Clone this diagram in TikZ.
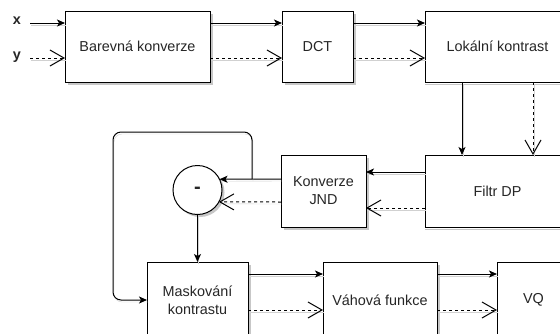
\documentclass[tikz,border=0pt]{standalone}
\usepackage{fontspec}
\setmainfont{Liberation Sans}
\usetikzlibrary{arrows.meta,shadows}
\begin{document}
\begin{tikzpicture}[x=1pt,y=-1pt,
  every node/.style={font=\fontsize{14.4}{18}\selectfont, text=black!85},
  blk/.style={draw, line width=1pt, fill=white, inner sep=0pt, outer sep=0pt, align=center,
    drop shadow={shadow xshift=2.5pt, shadow yshift=-2.5pt, fill=black!22, opacity=1}},
  rblk/.style={line width=1pt, inner sep=0pt, outer sep=0pt, align=center},
  eshadow/.style={preaction={draw=black!18, arrows=-, transform canvas={shift={(1pt,-2pt)}}}},
  sol/.style={line width=1pt, eshadow, -{Stealth[length=8pt,width=7pt,inset=2pt]}},
  dsh/.style={line width=1pt, eshadow, dash pattern=on 3pt off 3pt, -{Straight Barb[length=14pt,width=16pt]}},
  lbl/.style={font=\fontsize{14.4}{18}\selectfont\bfseries, text=black!85},
  open/.style={line width=1pt},
  oshadow/.style={line width=1pt, draw=black!22}
]
\fill[white] (0,0) rectangle (560,333);
\useasboundingbox (0,0) rectangle (560,333);
\clip (0,0) rectangle (560,333);

\node[blk, minimum width=145pt, minimum height=71pt] (bar) at (137.5,46.5) {Barevná konverze};
\node[blk, minimum width=71pt, minimum height=71pt] (dct) at (317.5,46.5) {DCT};
\node[rblk, minimum width=185pt, minimum height=71pt] (lok) at (517.5,46.5) {Lokální kontrast\hspace*{40pt}};
\node[rblk, minimum width=185pt, minimum height=72pt] (fil) at (517.5,191) {Filtr DP\hspace*{40pt}};
\node[blk, minimum width=85pt, minimum height=72pt] (jnd) at (323.5,191) {Konverze\\JND};
\node[blk, circle, minimum size=49pt] (cir) at (197.5,190) {\fontsize{20}{20}\selectfont\textbf{-}};
\node[blk, minimum width=101pt, minimum height=76pt] (mas) at (197.5,300) {Maskování\\kontrastu};
\node[blk, minimum width=114pt, minimum height=76pt] (vah) at (380,300) {Váhová funkce};
\node[rblk, minimum width=113pt, minimum height=76pt] (vq) at (553.5,300) {VQ\hspace*{40pt}};

\draw[oshadow] ([yshift=-2.5pt]lok.south west) -- ([yshift=-2.5pt]lok.south east);
\draw[oshadow] ([yshift=-2.5pt]fil.south west) -- ([yshift=-2.5pt]fil.south east);
\draw[open] (lok.north east) -- (lok.north west) -- (lok.south west) -- (lok.south east);
\draw[open] (fil.north east) -- (fil.north west) -- (fil.south west) -- (fil.south east);
\draw[open] (vq.north east) -- (vq.north west) -- (vq.south west);

\node[lbl] (lx) at (17,21) {x};
\node[lbl] (ly) at (17,57) {y};

\coordinate (r1) at (0,23);
\coordinate (r2) at (0,58);
\coordinate (xin) at (30,23);
\coordinate (yin) at (30,58);
\coordinate (c1) at (462,0);
\coordinate (c2) at (533,0);
\coordinate (r3) at (0,172);
\coordinate (r4) at (0,208);
\coordinate (r5) at (0,179);
\coordinate (r6) at (0,202);
\coordinate (r7) at (0,300);
\coordinate (r8) at (0,274);
\coordinate (r9) at (0,310);
\coordinate (sp) at (252,179);

\draw[sol] (xin) -- (bar.west |- r1);
\draw[dsh] (yin) -- (bar.west |- r2);
\draw[sol] (bar.east |- r1) -- (dct.west |- r1);
\draw[dsh] (bar.east |- r2) -- (dct.west |- r2);
\draw[sol] (dct.east |- r1) -- (lok.west |- r1);
\draw[dsh] (dct.east |- r2) -- (lok.west |- r2);
\draw[sol] (lok.south -| c1) -- (fil.north -| c1);
\draw[dsh] (lok.south -| c2) -- (fil.north -| c2);
\draw[sol] (fil.west |- r3) -- (jnd.east |- r3);
\draw[dsh] (fil.west |- r4) -- (jnd.east |- r4);
\draw[sol] (jnd.west |- r5) -- (cir.26.7);
\draw[dsh] (jnd.west |- r6) -- (cir.-29.3);
\draw[sol, rounded corners=8pt] (sp) -- (252,132) -- (113,132) -- (113,300) -- (mas.west |- r7);
\draw[sol] (cir) -- (mas);
\draw[sol] (mas.east |- r8) -- (vah.west |- r8);
\draw[dsh] (mas.east |- r9) -- (vah.west |- r9);
\draw[sol] (vah.east |- r8) -- (vq.west |- r8);
\draw[dsh] (vah.east |- r9) -- (vq.west |- r9);
\end{tikzpicture}
\end{document}
